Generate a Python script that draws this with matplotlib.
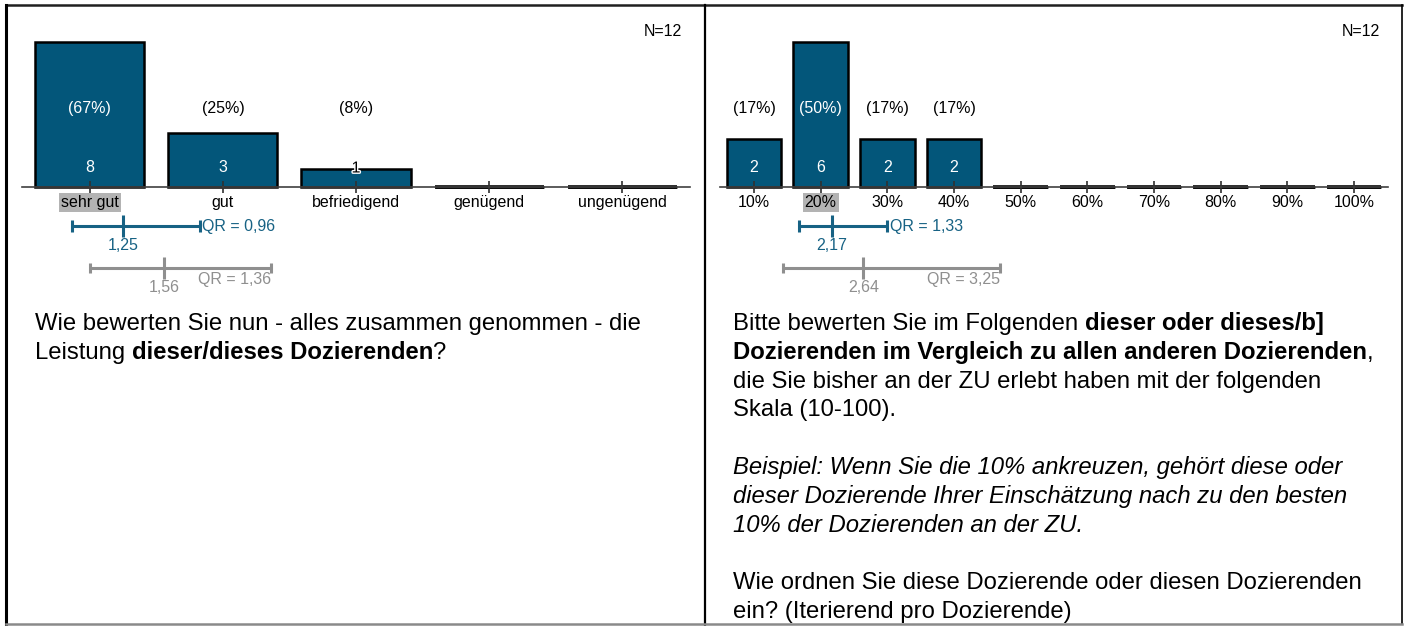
"""Two survey result panels: rating distribution + ranking distribution"""

import matplotlib
matplotlib.use('Agg')
import matplotlib.pyplot as plt
import matplotlib.transforms as mtrans
import matplotlib.patheffects as pe
from matplotlib.lines import Line2D

plt.rcParams['font.family'] = ['Liberation Sans', 'DejaVu Sans']

# ---- data -------------------------------------------------------------
left_cats = ['sehr gut', 'gut', 'befriedigend', 'genügend', 'ungenügend']
left_counts = [8, 3, 1, 0, 0]
left_pcts = ['(67%)', '(25%)', '(8%)', '', '']
left_n = 12
left_mode = 0
# (low, median, high, QR) in scale units, 1 = first category
left_own = (0.865, 1.25, 1.825, 0.96)
left_ref = (1.00, 1.56, 2.36, 1.36)

right_cats = ['10%', '20%', '30%', '40%', '50%', '60%', '70%', '80%', '90%', '100%']
right_counts = [2, 6, 2, 2, 0, 0, 0, 0, 0, 0]
right_pcts = ['(17%)', '(50%)', '(17%)', '(17%)', '', '', '', '', '', '']
right_n = 12
right_mode = 1
right_own = (1.67, 2.17, 3.00, 1.33)
right_ref = (1.44, 2.64, 4.69, 3.25)

left_question = [
    [('Wie bewerten Sie nun - alles zusammen genommen - die', 'normal', 'normal')],
    [('Leistung ', 'normal', 'normal'), ('dieser/dieses Dozierenden', 'bold', 'normal'),
     ('?', 'normal', 'normal')],
]
right_question = [
    [('Bitte bewerten Sie im Folgenden ', 'normal', 'normal'),
     ('dieser oder dieses/b]', 'bold', 'normal')],
    [('Dozierenden im Vergleich zu allen anderen Dozierenden', 'bold', 'normal'),
     (',', 'normal', 'normal')],
    [('die Sie bisher an der ZU erlebt haben mit der folgenden', 'normal', 'normal')],
    [('Skala (10-100).', 'normal', 'normal')],
    [],
    [('Beispiel: Wenn Sie die 10% ankreuzen, gehört diese oder', 'normal', 'italic')],
    [('dieser Dozierende Ihrer Einschätzung nach zu den besten', 'normal', 'italic')],
    [('10% der Dozierenden an der ZU.', 'normal', 'italic')],
    [],
    [('Wie ordnen Sie diese Dozierende oder diesen Dozierenden', 'normal', 'normal')],
    [('ein? (Iterierend pro Dozierende)', 'normal', 'normal')],
]

BLUE = '#03567a'
LBLUE = '#176284'
GRAY = '#8f8f8f'
HILITE = '#b3b3b3'

W, H = 1407, 626
fig = plt.figure(figsize=(W / 100, H / 100), dpi=100)
fig.patch.set_facecolor('white')


def fx(px):
    return px / W


def fy(py):
    return 1 - py / H


BASE = 187      # baseline pixel row
TOP = 42        # pixel row of the tallest bar
AX_TOP = 30


def panel(x0, x1, cats, counts, pcts, n, mode, own, ref):
    ax = fig.add_axes([fx(x0), fy(BASE), fx(x1) - fx(x0), fy(AX_TOP) - fy(BASE)])
    xs = list(range(1, len(cats) + 1))
    ymax = max(counts) * (BASE - AX_TOP) / (BASE - TOP)
    ax.set_xlim(0.49, len(cats) + 0.51)
    ax.set_ylim(0, ymax)
    for s in ['top', 'left', 'right']:
        ax.spines[s].set_visible(False)
    ax.spines['bottom'].set_color('#404040')
    ax.spines['bottom'].set_linewidth(1.2)
    ax.set_yticks([])
    ax.patch.set_alpha(0)

    ax.bar(xs, counts, width=0.82, color=BLUE, edgecolor='black',
           linewidth=1.8, clip_on=False, zorder=1)
    # empty categories show as a heavy stroke on the baseline
    zx = [x for x, c in zip(xs, counts) if c == 0]
    for x in zx:
        ax.plot([x - 0.41, x + 0.41], [0, 0], color='black', lw=2.6,
                solid_capstyle='butt', clip_on=False, zorder=1.2)

    ax.set_xticks(xs, cats, fontsize=11.5)
    ax.tick_params(axis='x', direction='inout', length=9, width=1.2,
                   color='#303030', pad=1.5)
    ax.get_xticklabels()[mode].set_bbox(
        dict(boxstyle='square,pad=0.12', facecolor=HILITE, edgecolor='none'))

    tr = mtrans.blended_transform_factory(ax.transData, fig.transFigure)
    px_per = (BASE - TOP) / max(counts)
    for x, c, p in zip(xs, counts, pcts):
        top_px = BASE - c * px_per
        if p:
            col = 'white' if top_px < 100 else 'black'
            ax.text(x, fy(108), p, transform=tr, ha='center', va='center',
                    fontsize=11.5, color=col)
        if c > 0:
            if top_px < 161:
                ax.text(x, fy(168), str(c), transform=tr, ha='center',
                        va='center', fontsize=11.5, color='white')
            else:
                ax.text(x, fy(168), str(c), transform=tr, ha='center',
                        va='center', fontsize=11.5, color='black',
                        path_effects=[pe.withStroke(linewidth=2, foreground='white')])

    fig.text(fx(x1 - 8), fy(32), f'N={n}', ha='right', va='center', fontsize=11.5)

    # spread markers below the axis
    for (lo, med, hi, qr), yl, col, tcol, cap, mt, side in [
            (own, 226, LBLUE, LBLUE, 6, 11, 'own'),
            (ref, 268, GRAY, GRAY, 5.5, 11.5, 'ref')]:
        kw = dict(transform=tr, color=col, lw=2.2, clip_on=False,
                  solid_capstyle='butt')
        ax.plot([lo, hi], [fy(yl), fy(yl)], **kw)
        for xe in (lo, hi):
            ax.plot([xe, xe], [fy(yl - cap), fy(yl + cap)], **kw)
        ax.plot([med, med], [fy(yl - mt), fy(yl + mt)], **kw)
        med_s = f'{med:.2f}'.replace('.', ',')
        qr_s = f'QR = {qr:.2f}'.replace('.', ',')
        if side == 'own':
            ax.text(med, fy(246), med_s, transform=tr, ha='center', va='center',
                    fontsize=11.5, color=tcol)
            ax.annotate(qr_s, xy=(hi, fy(227)), xycoords=tr, xytext=(2, 0),
                        textcoords='offset points', ha='left', va='center',
                        fontsize=11.5, color=tcol)
        else:
            ax.text(med, fy(287), med_s, transform=tr, ha='center', va='center',
                    fontsize=11.5, color=tcol)
            ax.text(hi, fy(279), qr_s, transform=tr, ha='right', va='center',
                    fontsize=11.5, color=tcol)
    return ax


panel(22, 690, left_cats, left_counts, left_pcts, left_n, left_mode, left_own, left_ref)
panel(720, 1388, right_cats, right_counts, right_pcts, right_n, right_mode, right_own, right_ref)

# question texts with mixed weights
renderer = fig.canvas.get_renderer()


def draw_lines(x_px, y_px, lines, step=29):
    for i, runs in enumerate(lines):
        x = fx(x_px)
        y = fy(y_px + i * step)
        for txt, weight, style in runs:
            t = fig.text(x, y, txt, ha='left', va='baseline', fontsize=17.2,
                         fontweight=weight, fontstyle=style, color='black')
            bb = t.get_window_extent(renderer)
            x = bb.x1 / W


draw_lines(35, 330, left_question)
draw_lines(733, 330, right_question, step=28.8)

# table frame
frame = [((6, 5), (1402, 5), '#202020', 1.8),
         ((6, 5), (6, 626), 'black', 2.2),
         ((705, 5), (705, 626), 'black', 1.6),
         ((1402, 5), (1402, 624), 'black', 1.2),
         ((6, 624), (1402, 624), '#8a8a8a', 1.8)]
for (xa, ya), (xb, yb), c, lw in frame:
    fig.add_artist(Line2D([fx(xa), fx(xb)], [fy(ya), fy(yb)], color=c, lw=lw,
                          transform=fig.transFigure))

fig.savefig('out.png', dpi=100, facecolor='white')
print('saved out.png')
